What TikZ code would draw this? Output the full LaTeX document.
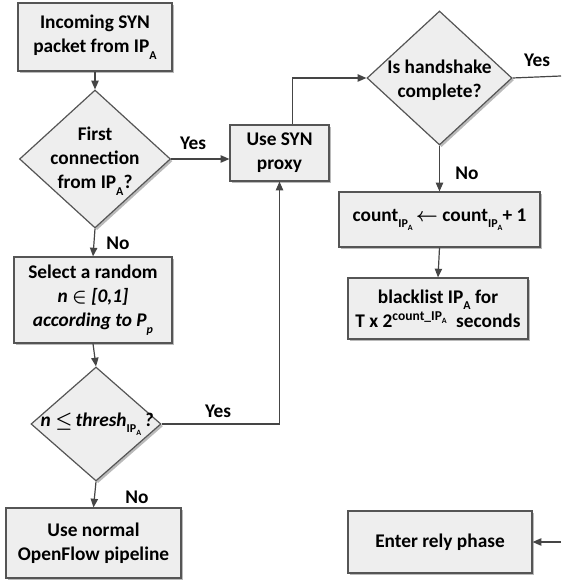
\documentclass[tikz,border=0pt]{standalone}
\usepackage{fontspec}
\setmainfont{Carlito}
\usetikzlibrary{shapes.geometric,arrows.meta,shadows,calc}
\newcommand\sbs[1]{\raisebox{-0.7ex}{\fontsize{9}{9}\selectfont #1}}
\newcommand\ssbs[1]{\raisebox{-0.5ex}{\fontsize{6}{6}\selectfont #1}}
\definecolor{boxfill}{HTML}{EEEEEE}
\definecolor{edge}{HTML}{555555}
\definecolor{conn}{HTML}{454545}
\tikzset{
  base/.style={draw=edge, line width=0.9pt, fill=boxfill, align=center,
    font=\fontsize{14.5}{18}\selectfont\bfseries, inner sep=0pt,
    drop shadow={shadow xshift=1.6pt, shadow yshift=-1.6pt, opacity=0.45, fill=black!60}},
  procbox/.style={base, rectangle},
  decbox/.style={base, diamond},
  dtext/.style={align=center, font=\fontsize{14.5}{18}\selectfont\bfseries, inner sep=0pt},
  lbl/.style={font=\fontsize{14.5}{18}\selectfont\bfseries, inner sep=0pt},
  arr/.style={draw=conn, line width=0.9pt, -{Triangle[length=6.5pt,width=5.5pt]}},
  ln/.style={draw=conn, line width=0.9pt}
}
\begin{document}
\begin{tikzpicture}[x=0.75pt,y=-0.75pt]
\useasboundingbox (0,0) rectangle (561,584);
% boxes
\node[procbox, minimum width=115.5pt, minimum height=51pt] (b1) at (95,37) {Incoming SYN\\packet from IP\sbs{A}};
\node[decbox, minimum width=113.25pt, minimum height=103.5pt] (d1) at (95,159) {};
\node[dtext] (d1t) at (95,161) {First\\connection\\from IP\sbs{A}?};
\node[procbox, minimum width=118.5pt, minimum height=64.5pt] (b2) at (93,300) {Select a random\\\textit{n} {\boldmath$\in$} \textit{[0,1]}\\\textit{according to P\sbs{p}}};
\node[decbox, minimum width=97.5pt, minimum height=85.5pt] (d3) at (96,424) {};
\node[dtext] (d3t) at (97,424) {\textit{n} {\boldmath$\leq$}\,\textit{thresh}\sbs{IP\ssbs{A}}\,\textit{?}};
\node[procbox, minimum width=131.25pt, minimum height=52.5pt] (b5) at (93.5,543) {Use normal\\OpenFlow pipeline};
\node[procbox, minimum width=74.25pt, minimum height=42pt] (syn) at (279.5,153) {Use SYN\\proxy};
\node[decbox, minimum width=108.75pt, minimum height=100.5pt] (d2) at (439.5,78) {};
\node[dtext] (d2t) at (439.5,80) {Is handshake\\complete?};
\node[procbox, minimum width=150.75pt, minimum height=41.25pt] (b3) at (439.5,219.5) {count\sbs{IP\ssbs{A}}\,{\boldmath$\leftarrow$} count\sbs{IP\ssbs{A}}+ 1};
\node[procbox, minimum width=135pt, minimum height=45.75pt] (b4) at (438,308.5) {blacklist IP\sbs{A} for\\T x 2\textsuperscript{count\_IP\ssbs{A}}\ \ seconds};
\node[procbox, minimum width=138pt, minimum height=46.5pt] (rely) at (440,542) {Enter rely phase};
% free ends
\coordinate (yesend) at (561,76);
\coordinate (relyin) at (561,542);
\coordinate (syntop) at ($(syn.north west)!0.63!(syn.north east)$);
% labels
\node[lbl] (l1) at (193,143) {Yes};
\node[lbl] (l2) at (118,243) {No};
\node[lbl] (l3) at (537,60) {Yes};
\node[lbl] (l4) at (467,173) {No};
\node[lbl] (l5) at (218,411) {Yes};
\node[lbl] (l6) at (137,497) {No};
% connectors
\draw[arr] (b1.south) -- (d1.north);
\draw[arr] (d1.south) -- (b2.north);
\draw[arr] (b2.south) -- (d3.north);
\draw[arr] (d3.south) -- (b5.north);
\draw[arr] (d1.east) -- (d1.east -| syn.west);
\draw[arr] (syntop) |- (d2.west);
\draw[arr] (d3.east) -| (syn.south);
\draw[arr] (d2.south) -- (b3.north);
\draw[arr] (b3.south) -- (b4.north);
\draw[ln] (d2.east) -- (yesend);
\draw[arr] (relyin) -- (rely.east);
\end{tikzpicture}
\end{document}
